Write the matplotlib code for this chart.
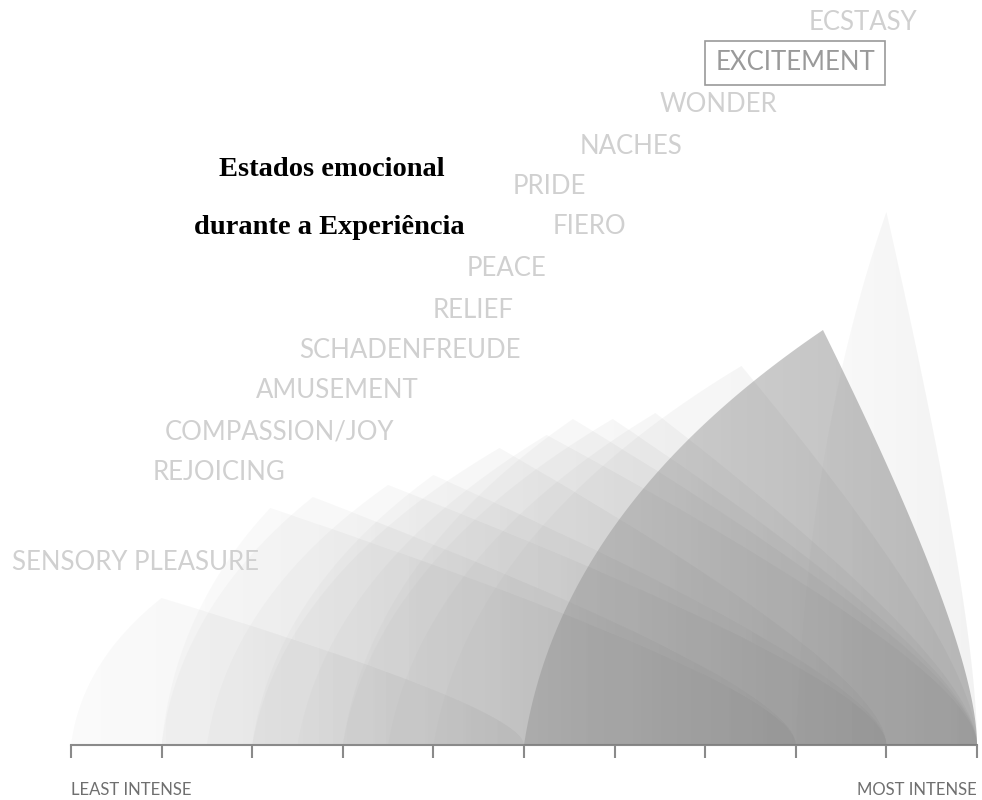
import numpy as np
import matplotlib
matplotlib.use("Agg")
import matplotlib.pyplot as plt
from matplotlib.patches import Polygon

# emotions, from least to most intense (x = intensity on a 0-10 scale)
emotions = ["SENSORY PLEASURE", "REJOICING", "COMPASSION/JOY", "AMUSEMENT",
            "SCHADENFREUDE", "RELIEF", "PEACE", "FIERO", "PRIDE", "NACHES",
            "WONDER", "EXCITEMENT", "ECSTASY"]
start = [0, 1, 1, 1.5, 2, 2, 2.5, 3, 3, 3.5, 4, 5, 8]
peak_x = [1.0, 2.2, 2.67, 3.5, 4.0, 4.73, 5.25, 5.54, 5.98, 6.45, 7.4, 8.3, 9.0]
peak_h = [147, 237, 248, 260, 270, 297, 310, 326, 326, 332, 379, 415, 533]
end = [5, 8, 8, 9, 9, 9, 10, 10, 10, 10, 10, 10, 10]
highlight = "EXCITEMENT"

# label anchors (left x in intensity units, y in height units)
label_pos = {
    "SENSORY PLEASURE": (-0.65, 183), "REJOICING": (0.9, 273),
    "COMPASSION/JOY": (1.03, 313), "AMUSEMENT": (2.04, 354),
    "SCHADENFREUDE": (2.52, 395), "RELIEF": (3.99, 435),
    "PEACE": (4.37, 477), "FIERO": (5.32, 518), "PRIDE": (4.87, 559),
    "NACHES": (5.61, 599), "WONDER": (6.5, 641), "EXCITEMENT": (7.11, 682),
    "ECSTASY": (8.14, 723),
}

fig = plt.figure(figsize=(9.82, 8.0), dpi=100)
ax = fig.add_axes([71 / 982, 55 / 800, 906 / 982, 745 / 800])
ax.set_xlim(0, 10)
ax.set_ylim(0, 745)


def bez(p0, c, p2, n=80):
    t = np.linspace(0, 1, n)[:, None]
    return (1 - t) ** 2 * np.array(p0) + 2 * (1 - t) * t * np.array(c) + t ** 2 * np.array(p2)


def draw_shape(x0, xp, h, x1, gray, a0, a1, z):
    left = bez((x0, 0), (x0 + 0.12 * (xp - x0), 0.57 * h), (xp, h))
    right = bez((xp, h), (x1, 0.25 * h), (x1, 0))
    verts = np.vstack([left, right[1:]])
    poly = Polygon(verts, closed=True, facecolor="none", edgecolor="none")
    ax.add_patch(poly)
    img = np.zeros((2, 200, 4))
    img[..., :3] = gray
    img[..., 3] = np.linspace(a0, a1, 200)[None, :]
    im = ax.imshow(img, extent=[x0, x1, 0, h], aspect="auto", origin="lower",
                   interpolation="bilinear", zorder=z)
    im.set_clip_path(poly)


for i, name in enumerate(emotions):
    if name == highlight:
        draw_shape(start[i], peak_x[i], peak_h[i], end[i], 0.45, 0.27, 0.47, 3)
    else:
        draw_shape(start[i], peak_x[i], peak_h[i], end[i], 0.5, 0.035, 0.1, 2)

ax.set_xlim(0, 10)
ax.set_ylim(0, 745)

for name in emotions:
    lx, ly = label_pos[name]
    if name == highlight:
        ax.text(lx, ly, name, fontsize=18.5, family="Lato",
                color="#9a9a9a", va="center", ha="left",
                bbox=dict(boxstyle="square,pad=0.38", facecolor="white",
                          edgecolor="#9a9a9a", linewidth=1.2))
    else:
        ax.text(lx, ly, name, fontsize=18.5, family="Lato",
                color="#d0d0d0", va="center", ha="left")

ax.text(2.88, 575, "Estados emocional", fontsize=20.5, family="Liberation Serif",
        fontweight="bold", ha="center", va="center")
ax.text(2.85, 517, "durante a Experiência", fontsize=20.5, family="Liberation Serif",
        fontweight="bold", ha="center", va="center")

# axis
for s in ["top", "left", "right"]:
    ax.spines[s].set_visible(False)
ax.spines["bottom"].set_color("#8a8a8a")
ax.spines["bottom"].set_linewidth(1.5)
ax.set_xticks(np.arange(0, 11))
ax.set_xticklabels([])
ax.tick_params(axis="x", direction="out", length=9, width=1.5, color="#8a8a8a")
ax.set_yticks([])
ax.text(0, -45, "LEAST INTENSE", fontsize=12, family="Lato",
        color="#6f6f6f", ha="left", va="center", clip_on=False)
ax.text(10, -45, "MOST INTENSE", fontsize=12, family="Lato",
        color="#6f6f6f", ha="right", va="center", clip_on=False)

fig.savefig("out.png", dpi=100)
